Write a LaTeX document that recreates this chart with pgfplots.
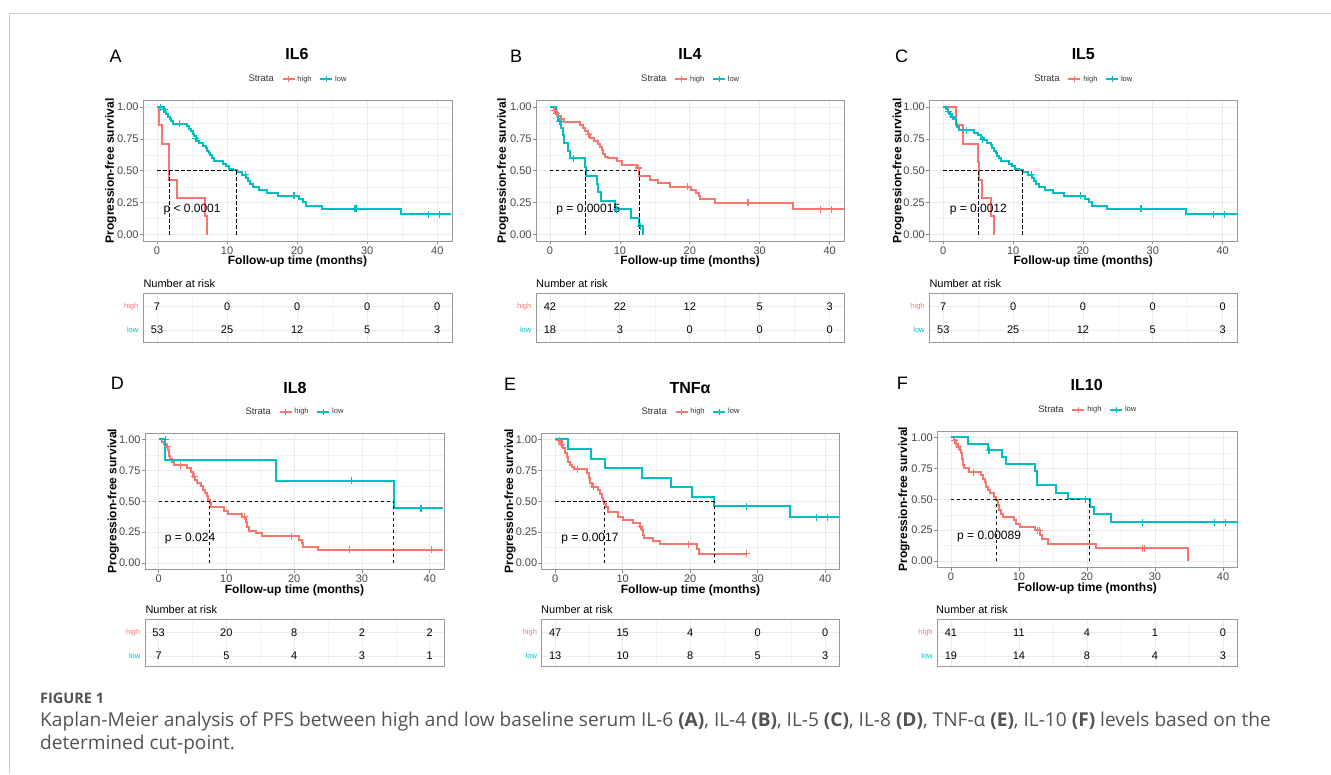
\documentclass[border=0pt]{standalone}
\usepackage{fontspec}
\setmainfont{Liberation Sans}
\newfontfamily\capfont{Open Sans}
\usepackage{pgfplots}
\pgfplotsset{compat=1.18}
\definecolor{kred}{HTML}{F8766D}
\definecolor{kcyan}{HTML}{00BFC4}
\newcommand\fs[1]{\fontsize{#1}{#1}\selectfont}
\pgfplotsset{
 kmbase/.style={
  scale only axis, xmin=-2, xmax=42.1, ymin=-0.05, ymax=1.05,
  xtick={0,10,20,30,40}, xticklabels={0,10,20,30,40},
  ytick={0,0.25,0.5,0.75,1}, yticklabels={0.00,0.25,0.50,0.75,1.00},
  minor xtick={5,15,25,35}, minor ytick={0.125,0.375,0.625,0.875},
  grid=both, tick pos=left,
  major grid style={draw=black!8, line width=0.8pt},
  minor grid style={draw=black!5, line width=0.5pt},
  axis line style={draw=black!40, line width=0.9pt},
  tick align=outside, major tick length=3.5pt, minor tick length=0pt,
  tick style={draw=black!45, line width=0.7pt},
  tick label style={font=\fs{11}, text=black!72, inner sep=0.8pt},
  xticklabel style={yshift=-1.5pt},
  xlabel={Follow-up time (months)}, ylabel={Progression-free survival},
  label style={font=\bfseries\fs{12}},
  xlabel style={at={(axis description cs:0.5,0)}, anchor=center, yshift=-20.7pt},
  ylabel style={anchor=center},
  legend style={at={(0.5,1)}, anchor=center, yshift=21.4pt, draw=none, fill=none, inner sep=0pt,
    font=\fs{7.5}, text=black!80, /tikz/every even column/.append style={column sep=6pt}},
  legend columns=-1, legend cell align=left,
  legend image code/.code={\draw[##1, mark repeat=2, mark phase=2] plot coordinates {(0pt,0pt) (6pt,0pt) (12pt,0pt)};},
 },
 tbltop/.style={tblbase, ymin=0.47, ymax=2.575},
 tblbot/.style={tblbase, ymin=0.54, ymax=2.575},
 tblbase/.style={
  scale only axis, xmin=-2, xmax=42.1,
  xtick={0,10,20,30,40}, minor xtick={5,15,25,35}, ytick={1,2},
  xticklabels={}, yticklabels={}, grid=both,
  major grid style={draw=black!8, line width=0.8pt},
  minor grid style={draw=black!5, line width=0.5pt},
  major tick length=0pt, minor tick length=0pt,
  axis line style={draw=black!40, line width=0.9pt}, clip=false,
 },
 kmr/.style={kred, line width=2pt, const plot, mark=none},
 kmc/.style={kcyan, line width=2pt, const plot, mark=none},
 cnr/.style={kred, only marks, mark=+, mark size=3.5pt, mark options={line width=1.1pt}},
 cnc/.style={kcyan, only marks, mark=+, mark size=3.5pt, mark options={line width=1.1pt}},
 med/.style={black, line width=0.8pt, dash pattern=on 3.5pt off 2.5pt},
}
\tikzset{tn/.style={font=\fs{11}, inner sep=0pt, anchor=center}}
\newcommand\kmlegend{%
 \addlegendimage{empty legend}\addlegendentry{\fs{9.5}Strata}%
 \addlegendimage{kred, line width=1.6pt, mark=+, mark size=3pt, mark options={line width=1pt}}\addlegendentry{high}%
 \addlegendimage{kcyan, line width=1.6pt, mark=+, mark size=3pt, mark options={line width=1pt}}\addlegendentry{low}%
}
\newcommand\trow[6]{%
 \node[tn] at (axis cs:0,#1) {#2};\node[tn] at (axis cs:10,#1) {#3};\node[tn] at (axis cs:20,#1) {#4};%
 \node[tn] at (axis cs:30,#1) {#5};\node[tn] at (axis cs:40,#1) {#6};}
\newcommand\tlab{%
 \node[anchor=east, inner sep=0pt, xshift=-4.5pt, font=\fs{7.5}, text=kred] at (axis cs:-2,2) {high};%
 \node[anchor=east, inner sep=0pt, xshift=-4.5pt, font=\fs{7.5}, text=kcyan] at (axis cs:-2,1) {low};}
\newcommand\pval[1]{\node[anchor=west, inner sep=0pt, font=\fs{12}] at (axis cs:0.9,0.196) {#1};}
\begin{document}
\begin{tikzpicture}
\path[use as bounding box] (0,0) rectangle (1331pt,774pt);
\draw[black!20, line width=1.2pt] (9.7pt,0pt) -- (9.7pt,760.3pt) -- (1331pt,760.3pt);
% letters and titles
\node[anchor=west, inner sep=0pt, font=\fs{18}] at (109.3pt,717.7pt) {A};
\node[anchor=west, inner sep=0pt, font=\fs{18}] at (510pt,718pt) {B};
\node[anchor=west, inner sep=0pt, font=\fs{18}] at (895pt,718pt) {C};
\node[anchor=west, inner sep=0pt, font=\fs{18}] at (110.7pt,390.3pt) {D};
\node[anchor=west, inner sep=0pt, font=\fs{18}] at (504pt,390pt) {E};
\node[anchor=west, inner sep=0pt, font=\fs{18}] at (896.7pt,390.2pt) {F};
\node[inner sep=0pt, font=\bfseries\fs{16}] at (297pt,719.8pt) {IL6};
\node[inner sep=0pt, font=\bfseries\fs{16}] at (690pt,720pt) {IL4};
\node[inner sep=0pt, font=\bfseries\fs{16}] at (1083.3pt,720pt) {IL5};
\node[inner sep=0pt, font=\bfseries\fs{16}] at (295pt,386pt) {IL8};
\node[inner sep=0pt, font=\bfseries\fs{16}] at (690pt,385.7pt) {TNFα};
\node[inner sep=0pt, font=\bfseries\fs{16}] at (1086.7pt,388.7pt) {IL10};
% number at risk
\node[anchor=west, inner sep=0pt, font=\fs{11}] at (143.3pt,490.7pt) {Number at risk};
\node[anchor=west, inner sep=0pt, font=\fs{11}] at (536pt,490.7pt) {Number at risk};
\node[anchor=west, inner sep=0pt, font=\fs{11}] at (929.3pt,490.7pt) {Number at risk};
\node[anchor=west, inner sep=0pt, font=\fs{11}] at (145.3pt,164.8pt) {Number at risk};
\node[anchor=west, inner sep=0pt, font=\fs{11}] at (541pt,164.8pt) {Number at risk};
\node[anchor=west, inner sep=0pt, font=\fs{11}] at (936pt,164.8pt) {Number at risk};
% ---------------- A: IL6
\begin{axis}[kmbase, at={(143pt,533pt)}, anchor=south west, width=309pt, height=140.3pt,
  ylabel style={at={(axis description cs:-0.1045,0.5)}}]
\kmlegend
\addplot[kmr] coordinates {(0,1) (0.29,0.857) (0.67,0.714) (1.75,0.429) (2.8,0.286) (6.85,0.143) (7.2,0)};
\addplot[kmc] coordinates {(0,1) (0.85,0.981) (1.1,0.962) (1.35,0.943) (1.6,0.925) (1.85,0.906) (2.05,0.887) (2.3,0.868) (4.3,0.849) (4.6,0.830) (4.9,0.811) (5.1,0.792) (5.3,0.773) (5.5,0.754) (5.7,0.735) (6.0,0.716) (6.6,0.697) (7.0,0.678) (7.2,0.659) (7.4,0.640) (7.6,0.621) (7.9,0.602) (8.2,0.575) (9.4,0.556) (9.8,0.537) (10.3,0.518) (10.8,0.508) (11.4,0.489) (12.2,0.47) (12.75,0.445) (13.0,0.420) (13.3,0.398) (13.7,0.375) (14.6,0.352) (15.7,0.328) (17.3,0.305) (20.3,0.282) (20.8,0.254) (21.3,0.226) (23.5,0.201) (34.8,0.161) (42,0.161)};
\addplot[cnc] coordinates {(0.5,1) (1.0,0.981) (3.2,0.868) (5.45,0.754) (12.65,0.47) (19.55,0.305) (28.2,0.201) (28.4,0.201) (38.7,0.161) (40.3,0.161)};
\addplot[med] coordinates {(0,0.5) (11.4,0.5)};
\addplot[med] coordinates {(1.75,0) (1.75,0.5)};
\addplot[med] coordinates {(11.4,0) (11.4,0.5)};
\pval{p < 0.0001}
\end{axis}
\begin{axis}[tbltop, at={(143pt,431.7pt)}, anchor=south west, width=309pt, height=49pt]
\trow{2}{7}{0}{0}{0}{0}\trow{1}{53}{25}{12}{5}{3}\tlab
\end{axis}
% ---------------- B: IL4
\begin{axis}[kmbase, at={(536pt,533pt)}, anchor=south west, width=308.3pt, height=140.3pt,
  ylabel style={at={(axis description cs:-0.108,0.5)}}]
\kmlegend
\addplot[kmr] coordinates {(0,1) (0.55,0.976) (0.9,0.952) (1.2,0.929) (1.6,0.905) (2.0,0.881) (4.3,0.857) (4.7,0.833) (5.0,0.809) (5.4,0.785) (5.7,0.760) (6.3,0.735) (6.8,0.710) (7.2,0.685) (7.4,0.660) (7.6,0.635) (7.9,0.610) (8.3,0.598) (9.6,0.574) (10.3,0.548) (12.5,0.522) (12.75,0.463) (14.3,0.432) (15.4,0.401) (17.1,0.376) (20.1,0.352) (20.95,0.326) (21.3,0.300) (21.5,0.280) (23.6,0.250) (34.8,0.200) (42,0.200)};
\addplot[kmc] coordinates {(0,1) (0.8,0.944) (1.1,0.889) (1.6,0.833) (1.8,0.778) (2.0,0.722) (2.6,0.656) (2.9,0.597) (5.0,0.530) (5.1,0.463) (6.7,0.397) (6.9,0.331) (7.3,0.265) (9.3,0.199) (11.6,0.133) (12.8,0.066) (13.3,0)};
\addplot[cnr] coordinates {(0.6,0.976) (1.0,0.952) (5.5,0.785) (12.65,0.522) (19.7,0.376) (28.2,0.25) (28.4,0.25) (38.7,0.2) (40.3,0.2)};
\addplot[cnc] coordinates {(1.3,0.889) (3.3,0.597) (9.5,0.199) (12.9,0.066)};
\addplot[med] coordinates {(0,0.5) (12.75,0.5)};
\addplot[med] coordinates {(5.1,0) (5.1,0.5)};
\addplot[med] coordinates {(12.75,0) (12.75,0.5)};
\pval{p = 0.00015}
\end{axis}
\begin{axis}[tbltop, at={(536pt,431.7pt)}, anchor=south west, width=308.3pt, height=49pt]
\trow{2}{42}{22}{12}{5}{3}\trow{1}{18}{3}{0}{0}{0}\tlab
\end{axis}
% ---------------- C: IL5
\begin{axis}[kmbase, at={(929.3pt,533pt)}, anchor=south west, width=308pt, height=140.3pt,
  ylabel style={at={(axis description cs:-0.1006,0.5)}}]
\kmlegend
\addplot[kmr] coordinates {(0,1) (1.8,0.857) (2.8,0.714) (4.9,0.571) (5.1,0.429) (5.55,0.286) (6.9,0.143) (7.3,0)};
\addplot[kmc] coordinates {(0,1) (0.4,0.981) (0.7,0.962) (0.9,0.943) (1.05,0.925) (1.5,0.906) (1.8,0.868) (2.0,0.840) (2.3,0.817) (4.4,0.797) (4.9,0.778) (5.4,0.758) (5.8,0.738) (6.3,0.718) (6.8,0.699) (7.0,0.679) (7.3,0.659) (7.5,0.640) (7.7,0.620) (8.0,0.600) (8.3,0.575) (9.4,0.556) (9.8,0.537) (10.3,0.518) (10.8,0.508) (11.4,0.489) (12.2,0.47) (12.75,0.445) (13.0,0.420) (13.3,0.398) (13.7,0.375) (14.6,0.352) (15.7,0.328) (17.3,0.305) (20.3,0.282) (20.8,0.254) (21.3,0.226) (23.5,0.201) (34.8,0.161) (42,0.161)};
\addplot[cnc] coordinates {(0.8,0.962) (1.3,0.925) (3.3,0.817) (5.6,0.748) (12.65,0.47) (19.6,0.305) (28.2,0.201) (28.4,0.201) (38.7,0.161) (40.3,0.161)};
\addplot[med] coordinates {(0,0.5) (11.4,0.5)};
\addplot[med] coordinates {(5.1,0) (5.1,0.5)};
\addplot[med] coordinates {(11.4,0) (11.4,0.5)};
\pval{p = 0.0012}
\end{axis}
\begin{axis}[tbltop, at={(929.3pt,431.7pt)}, anchor=south west, width=308pt, height=49pt]
\trow{2}{7}{0}{0}{0}{0}\trow{1}{53}{25}{12}{5}{3}\tlab
\end{axis}
% ---------------- D: IL8
\begin{axis}[kmbase, at={(145pt,204.7pt)}, anchor=south west, width=299pt, height=136pt,
  ylabel style={at={(axis description cs:-0.106,0.5)}}]
\kmlegend
\addplot[kmr] coordinates {(0,1) (0.5,0.981) (0.8,0.962) (1.05,0.943) (1.45,0.914) (1.6,0.87) (1.75,0.84) (2.0,0.815) (2.3,0.79) (4.2,0.766) (4.8,0.74) (5.1,0.70) (5.4,0.67) (5.6,0.645) (6.3,0.62) (6.6,0.59) (6.9,0.565) (7.1,0.54) (7.3,0.51) (7.6,0.484) (7.8,0.457) (9.6,0.42) (10.2,0.395) (12.3,0.376) (12.9,0.336) (13.0,0.296) (13.3,0.263) (14.4,0.242) (15.3,0.218) (20.7,0.188) (21.1,0.16) (21.3,0.134) (23.5,0.107) (42,0.107)};
\addplot[kmc] coordinates {(0,1) (1.0,0.833) (17.3,0.667) (34.7,0.444) (42,0.444)};
\addplot[cnr] coordinates {(1.3,0.943) (3.2,0.79) (5.3,0.70) (12.7,0.376) (19.6,0.218) (28.1,0.107) (40.2,0.107)};
\addplot[cnc] coordinates {(1.0,1.0) (28.5,0.667) (38.7,0.444)};
\addplot[med] coordinates {(0,0.5) (34.7,0.5)};
\addplot[med] coordinates {(7.5,0) (7.5,0.5)};
\addplot[med] coordinates {(34.7,0) (34.7,0.5)};
\pval{p = 0.024}
\end{axis}
\begin{axis}[tblbot, at={(145pt,107.3pt)}, anchor=south west, width=299pt, height=47.4pt]
\trow{2}{53}{20}{8}{2}{2}\trow{1}{7}{5}{4}{3}{1}\tlab
\end{axis}
% ---------------- E: TNFa
\begin{axis}[kmbase, at={(541.7pt,204.7pt)}, anchor=south west, width=297.6pt, height=136pt,
  ylabel style={at={(axis description cs:-0.1065,0.5)}}]
\kmlegend
\addplot[kmr] coordinates {(0,1) (0.6,0.979) (0.85,0.957) (1.1,0.935) (1.4,0.887) (1.7,0.855) (1.9,0.82) (2.15,0.796) (2.45,0.774) (2.8,0.758) (4.75,0.731) (5.0,0.685) (5.2,0.645) (5.4,0.618) (6.3,0.59) (6.7,0.56) (6.9,0.53) (7.1,0.503) (7.3,0.476) (7.5,0.45) (7.8,0.414) (9.3,0.374) (10.0,0.35) (11.5,0.323) (12.5,0.296) (12.8,0.265) (13.0,0.231) (13.2,0.207) (14.5,0.175) (15.5,0.153) (21.0,0.114) (21.3,0.076) (28.3,0.076)};
\addplot[kmc] coordinates {(0,1) (1.9,0.923) (5.3,0.846) (7.4,0.769) (12.8,0.692) (17.2,0.615) (20.3,0.538) (23.6,0.461) (34.8,0.369) (42,0.369)};
\addplot[cnr] coordinates {(0.6,0.99) (1.0,0.957) (3.3,0.758) (5.7,0.618) (12.7,0.296) (19.7,0.153) (28.3,0.076)};
\addplot[cnc] coordinates {(28.4,0.461) (38.7,0.369) (40.3,0.369)};
\addplot[med] coordinates {(0,0.5) (23.6,0.5)};
\addplot[med] coordinates {(7.3,0) (7.3,0.5)};
\addplot[med] coordinates {(23.6,0) (23.6,0.5)};
\pval{p = 0.0017}
\end{axis}
\begin{axis}[tblbot, at={(541.7pt,107.3pt)}, anchor=south west, width=297.6pt, height=47.4pt]
\trow{2}{47}{15}{4}{0}{0}\trow{1}{13}{10}{8}{5}{3}\tlab
\end{axis}
% ---------------- F: IL10
\begin{axis}[kmbase, at={(937.3pt,206.7pt)}, anchor=south west, width=300pt, height=136pt,
  ylabel style={at={(axis description cs:-0.111,0.5)}}]
\kmlegend
\addplot[kmr] coordinates {(0,1) (0.4,0.976) (0.7,0.951) (0.95,0.927) (1.3,0.902) (1.55,0.878) (1.65,0.829) (1.75,0.78) (1.95,0.756) (2.6,0.72) (4.45,0.693) (4.7,0.665) (4.95,0.638) (5.1,0.603) (5.5,0.576) (5.8,0.549) (6.4,0.522) (6.6,0.496) (6.9,0.456) (7.1,0.416) (7.4,0.381) (7.7,0.36) (9.3,0.331) (9.6,0.304) (10.1,0.277) (12.3,0.248) (13.1,0.208) (13.35,0.176) (14.2,0.141) (21.3,0.104) (34.8,0)};
\addplot[kmc] coordinates {(0,1) (2.5,0.947) (5.5,0.895) (7.5,0.842) (8.1,0.789) (12.4,0.73) (12.7,0.614) (15.5,0.553) (17.2,0.50) (20.4,0.44) (21.0,0.378) (23.5,0.313) (42,0.313)};
\addplot[cnr] coordinates {(0.5,0.976) (1.1,0.927) (3.3,0.72) (12.7,0.248) (13.0,0.248) (28.1,0.104) (28.4,0.104)};
\addplot[cnc] coordinates {(5.6,0.895) (19.8,0.50) (28.2,0.313) (38.7,0.313) (40.3,0.313)};
\addplot[med] coordinates {(0,0.5) (20.3,0.5)};
\addplot[med] coordinates {(6.75,0) (6.75,0.5)};
\addplot[med] coordinates {(20.3,0) (20.3,0.5)};
\pval{p = 0.00089}
\end{axis}
\begin{axis}[tblbot, at={(937.3pt,107.3pt)}, anchor=south west, width=300pt, height=47.4pt]
\trow{2}{41}{11}{4}{1}{0}\trow{1}{19}{14}{8}{4}{3}\tlab
\end{axis}
% caption
\node[anchor=west, inner sep=0pt, font=\capfont\bfseries\fs{14.5}, text=black!68] at (40pt,75.7pt) {FIGURE 1};
\node[anchor=base west, inner sep=0pt, font=\capfont\fs{19.1}, text=black!68] at (40pt,47.3pt) {Kaplan-Meier analysis of PFS between high and low baseline serum IL-6 \textbf{(A)}, IL-4 \textbf{(B)}, IL-5 \textbf{(C)}, IL-8 \textbf{(D)}, TNF-α \textbf{(E)}, IL-10 \textbf{(F)} levels based on the};
\node[anchor=base west, inner sep=0pt, font=\capfont\fs{19.1}, text=black!68] at (40pt,24pt) {determined cut-point.};
\end{tikzpicture}
\end{document}
